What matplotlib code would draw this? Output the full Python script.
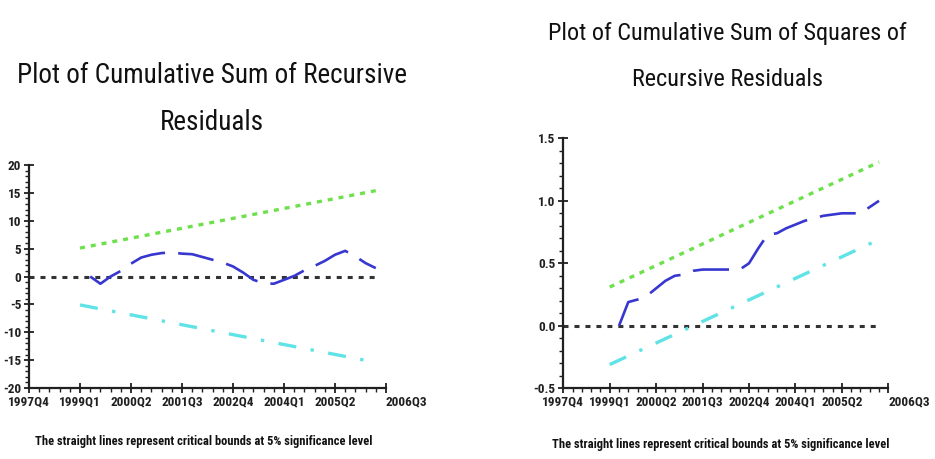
import matplotlib
matplotlib.use('Agg')
import matplotlib.pyplot as plt
import pandas as pd
from matplotlib.ticker import MultipleLocator

plt.rcParams['font.family'] = ['Roboto Condensed', 'Liberation Sans Narrow', 'Roboto', 'DejaVu Sans']
plt.rcParams['lines.scale_dashes'] = False

# ---------------- data ----------------
axis_range = ['1997Q4', '2006Q3']
tick_labels = ['1997Q4', '1999Q1', '2000Q2', '2001Q3', '2002Q4', '2004Q1', '2005Q2', '2006Q3']
data_quarters = ['1999Q2', '1999Q3', '1999Q4', '2000Q1', '2000Q2', '2000Q3', '2000Q4',
                 '2001Q1', '2001Q2', '2001Q3', '2001Q4', '2002Q1', '2002Q2', '2002Q3',
                 '2002Q4', '2003Q1', '2003Q2', '2003Q3', '2003Q4', '2004Q1', '2004Q2',
                 '2004Q3', '2004Q4', '2005Q1', '2005Q2', '2005Q3', '2005Q4', '2006Q1',
                 '2006Q2']
bound_quarters = ['1999Q1', '2006Q2']
zero_quarters = ['1997Q4', '2006Q2']

cusum = [0.0, -1.3, 0.0, 1.0, 2.3, 3.4, 3.9, 4.2, 4.3, 4.1, 4.0, 3.5, 3.0, 2.5,
         1.8, 0.7, -0.6, -1.2, -1.3, -0.6, 0.1, 1.1, 1.9, 2.8, 3.9, 4.6, 3.6, 2.4, 1.5]
cusum_upper = [5.1, 15.4]
cusum_lower = [-5.1, -15.4]

cusumsq = [0.0, 0.19, 0.21, 0.24, 0.30, 0.36, 0.40, 0.41, 0.44, 0.45, 0.45, 0.45,
           0.45, 0.45, 0.50, 0.62, 0.73, 0.74, 0.78, 0.81, 0.84, 0.86, 0.88, 0.89,
           0.90, 0.90, 0.90, 0.95, 1.00]
sq_upper = [0.31, 1.31]
sq_lower = [-0.31, 0.69]
zero_line = [0.0, 0.0]

left_yticks = [20, 15, 10, 5, 0, -5, -10, -15, -20]
left_ylabels = ['20', '15', '10', '5', '0', '-5', '-10', '-15', '-20']
right_yticks = [1.5, 1.0, 0.5, 0.0, -0.5]
right_ylabels = ['1.5', '1.0', '0.5', '0.0', '-0.5']

titles = [['Plot of Cumulative Sum of Recursive', 'Residuals'],
          ['Plot of Cumulative Sum of Squares of', 'Recursive Residuals']]
caption = 'The straight lines represent critical bounds at 5% significance level'

# ---------------- helpers ----------------
base = pd.Period(axis_range[0], freq='Q').ordinal


def pos(labels):
    return [pd.Period(q, freq='Q').ordinal - base for q in labels]


W, H = 935, 459
fig = plt.figure(figsize=(W / 100, H / 100), dpi=100)
fig.patch.set_facecolor('white')

BLUE = '#3737d0'
GREEN = '#6ee04c'
CYAN = '#5fe3e6'
ZERO = '#333333'


def style_axes(ax, yticks, ylabels, ylim, yminor):
    for s in ['top', 'right']:
        ax.spines[s].set_visible(False)
    for s in ['left', 'bottom']:
        ax.spines[s].set_linewidth(1.6)
        ax.spines[s].set_color('#202020')
    ax.set_xlim(0, pos([axis_range[1]])[0])
    ax.set_ylim(*ylim)
    ax.set_xticks(pos(tick_labels))
    ax.set_xticklabels(tick_labels)
    ax.xaxis.set_minor_locator(MultipleLocator(1))
    ax.set_yticks(yticks)
    ax.set_yticklabels(ylabels)
    ax.yaxis.set_minor_locator(MultipleLocator(yminor))
    ax.tick_params(axis='both', which='major', direction='inout', length=7, width=1.3,
                   labelsize=9.5, colors='#202020', pad=2)
    ax.tick_params(axis='both', which='minor', direction='out', length=3, width=1.0,
                   colors='#202020')
    for t in ax.get_xticklabels() + ax.get_yticklabels():
        t.set_fontweight('bold')
    lbls = ax.get_xticklabels()
    lbls[-1].set_horizontalalignment('left')
    ax.patch.set_alpha(0)


# ---------------- left: CUSUM ----------------
axL = fig.add_axes([29 / W, 1 - 388 / H, 357 / W, 223 / H])
axL.plot(pos(zero_quarters), zero_line, color=ZERO, lw=2.2, dashes=(3.6, 4.3))
axL.plot(pos(bound_quarters), cusum_upper, color=GREEN, lw=2.4, dashes=(3.6, 4.3))
axL.plot(pos(bound_quarters), cusum_lower, color=CYAN, lw=2.4,
         dashes=(13, 10.5, 2.4, 10.5))
axL.plot(pos(data_quarters), cusum, color=BLUE, lw=1.9, dashes=(26, 9.5))
style_axes(axL, left_yticks, left_ylabels, (-20, 20), 1)

# ---------------- right: CUSUM of squares ----------------
axR = fig.add_axes([563.3 / W, 1 - 388.3 / H, 325 / W, 250 / H])
axR.plot(pos(zero_quarters), zero_line, color=ZERO, lw=2.2, dashes=(3.6, 4.3))
axR.plot(pos(bound_quarters), sq_upper, color=GREEN, lw=2.4, dashes=(3.6, 4.3))
axR.plot(pos(bound_quarters), sq_lower, color=CYAN, lw=2.4,
         dashes=(13, 10.5, 2.4, 10.5))
axR.plot(pos(data_quarters), cusumsq, color=BLUE, lw=1.9, dashes=(26, 9.5))
style_axes(axR, right_yticks, right_ylabels, (-0.5, 1.5), 0.1)

# ---------------- titles & captions ----------------
tf = dict(color='#111111', ha='center', va='baseline')
fig.text(212 / W, 1 - 83 / H, titles[0][0], fontsize=19.5, **tf)
fig.text(212 / W, 1 - 130 / H, titles[0][1], fontsize=19.5, **tf)
fig.text(727 / W, 1 - 40 / H, titles[1][0], fontsize=17.5, **tf)
fig.text(727 / W, 1 - 86 / H, titles[1][1], fontsize=17.5, **tf)

cap_font = dict(fontsize=9, color='#111111', ha='center', va='baseline', fontweight='bold')
fig.text(204 / W, 1 - 445 / H, caption, **cap_font)
fig.text(721 / W, 1 - 448 / H, caption, **cap_font)

fig.savefig('out.png', dpi=100, facecolor='white')
